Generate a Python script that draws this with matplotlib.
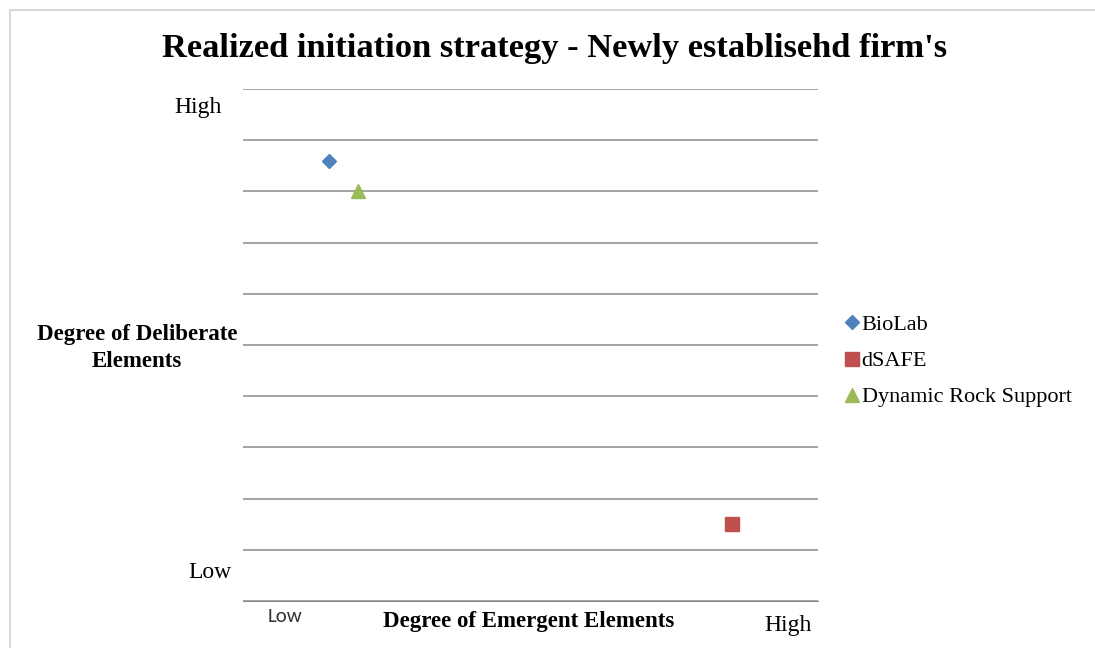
import matplotlib.pyplot as plt
from matplotlib.patches import Rectangle

# data
series = ['BioLab', 'dSAFE', 'Dynamic Rock Support']
x_vals = [1.5, 8.5, 2.0]
y_vals = [8.6, 1.5, 8.0]
markers = ['D', 's', '^']
colors = ['#4F81BD', '#C0504D', '#9BBB59']
sizes = [7, 10, 10]

W, H = 1095, 648
fig = plt.figure(figsize=(W / 100, H / 100), dpi=100)
plt.rcParams['font.family'] = ['Liberation Serif', 'DejaVu Serif']

# outer chart border (cut by the image edge)
fig.patches.append(Rectangle((10 / W, -0.1), 1.2, 1 - 10 / H + 0.1,
                             transform=fig.transFigure, fill=False,
                             edgecolor='#d0d0d0', linewidth=1.2))

ax = fig.add_axes([243 / W, 1 - 601 / H, (818 - 243) / W, (601 - 89) / H])
ax.set_xlim(0, 10)
ax.set_ylim(0, 10)
ax.set_yticks(range(0, 11))
ax.set_xticks([])
ax.tick_params(left=False, labelleft=False)
ax.grid(axis='y', color='#8c8c8c', linewidth=1.1)
for s in ['top', 'right', 'left']:
    ax.spines[s].set_visible(False)
ax.spines['bottom'].set_color('#8c8c8c')
ax.set_axisbelow(True)

handles = []
for name, x, y, m, c, sz in zip(series, x_vals, y_vals, markers, colors, sizes):
    h, = ax.plot([x], [y], linestyle='none', marker=m, color=c, markersize=sz,
                 label=name, clip_on=False)
    handles.append(h)

fig.legend(handles=handles, loc='center left', bbox_to_anchor=(845 / W, 1 - 361 / H),
           frameon=False, fontsize=16, handlelength=0.6, handletextpad=0.15,
           labelspacing=0.7, borderpad=0, borderaxespad=0)

def px(x, y):
    return x / W, 1 - y / H

fig.text(*px(555, 49), "Realized initiation strategy - Newly establisehd firm's",
         ha='center', va='center', fontsize=24.8, fontweight='bold')
fig.text(*px(222, 108), 'High', ha='right', va='center', fontsize=17)
fig.text(*px(231, 572), 'Low', ha='right', va='center', fontsize=17)
fig.text(*px(137, 348), 'Degree of Deliberate\nElements', ha='center', va='center',
         fontsize=16.5, fontweight='bold', linespacing=1.35)
fig.text(*px(285, 617), 'Low', ha='center', va='center', fontsize=15,
         family=['Carlito', 'Liberation Sans', 'DejaVu Sans'], color='#333333')
fig.text(*px(529, 621), 'Degree of Emergent Elements', ha='center', va='center',
         fontsize=16.5, fontweight='bold')
fig.text(*px(788, 626), 'High', ha='center', va='center', fontsize=17)

fig.savefig('out.png', dpi=100)
